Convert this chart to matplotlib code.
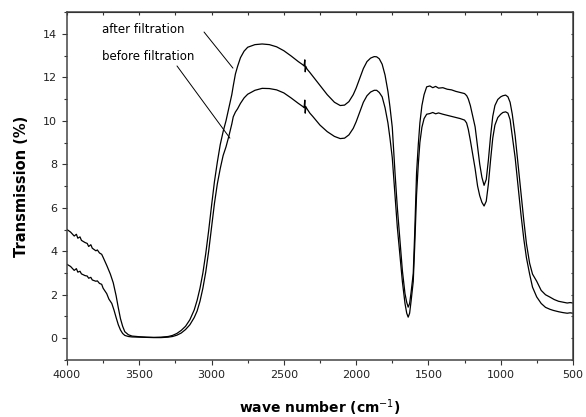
import matplotlib
matplotlib.use("Agg")
import matplotlib.pyplot as plt
from matplotlib.ticker import MultipleLocator

plt.rcParams["font.family"] = ["DejaVu Sans"]

# wavenumber (cm-1) and transmission (%), rows of ten
wn_after = [4000, 3975, 3950, 3935, 3925, 3910, 3900, 3875, 3860, 3850,
            3835, 3825, 3800, 3790, 3775, 3760, 3750, 3725, 3700, 3680,
            3660, 3645, 3630, 3615, 3600, 3575, 3550, 3500, 3450, 3400,
            3350, 3300, 3270, 3240, 3210, 3180, 3150, 3120, 3100, 3080,
            3060, 3040, 3020, 3000, 2980, 2960, 2940, 2920, 2900, 2880,
            2860, 2850, 2835, 2820, 2800, 2775, 2750, 2700, 2650, 2600,
            2550, 2500, 2450, 2400, 2370, 2360, 2355, 2352, 2348, 2340,
            2320, 2300, 2250, 2200, 2150, 2110, 2080, 2050, 2020, 2000,
            1975, 1950, 1925, 1900, 1875, 1858, 1840, 1820, 1800, 1780,
            1766, 1750, 1731, 1715, 1697, 1680, 1662, 1650, 1640, 1630,
            1620, 1605, 1595, 1582, 1570, 1559, 1545, 1530, 1512, 1490,
            1470, 1450, 1430, 1400, 1370, 1340, 1310, 1280, 1250, 1235,
            1224, 1210, 1195, 1177, 1160, 1145, 1130, 1115, 1100, 1085,
            1070, 1055, 1040, 1020, 1000, 985, 966, 950, 935, 920,
            900, 880, 860, 840, 822, 800, 780, 751, 720, 690,
            659, 630, 600, 570, 540, 520, 500]
tr_after = [5.00, 4.88, 4.70, 4.78, 4.60, 4.66, 4.50, 4.40, 4.36, 4.22,
            4.30, 4.14, 4.02, 4.06, 3.92, 3.86, 3.72, 3.35, 2.95, 2.55,
            1.95, 1.40, 0.90, 0.55, 0.30, 0.16, 0.10, 0.07, 0.05, 0.04,
            0.05, 0.08, 0.13, 0.22, 0.36, 0.55, 0.85, 1.30, 1.74, 2.30,
            3.00, 3.90, 4.95, 6.10, 7.20, 8.10, 8.90, 9.50, 10.00, 10.60,
            11.20, 11.60, 12.15, 12.50, 12.90, 13.20, 13.38, 13.50, 13.53, 13.50,
            13.40, 13.22, 12.98, 12.72, 12.58, 12.52, 12.80, 12.25, 12.50, 12.38,
            12.22, 12.05, 11.62, 11.20, 10.85, 10.70, 10.72, 10.88, 11.20, 11.50,
            11.95, 12.40, 12.72, 12.88, 12.95, 12.94, 12.85, 12.60, 12.10, 11.35,
            10.64, 9.70, 7.60, 6.00, 4.50, 3.10, 2.05, 1.65, 1.43, 1.60,
            2.10, 2.97, 4.80, 7.60, 8.90, 9.90, 10.70, 11.20, 11.56, 11.60,
            11.52, 11.58, 11.50, 11.52, 11.45, 11.42, 11.35, 11.30, 11.25, 11.15,
            11.00, 10.70, 10.25, 9.72, 8.80, 8.00, 7.40, 7.03, 7.30, 8.20,
            9.30, 10.20, 10.70, 10.98, 11.10, 11.15, 11.18, 11.10, 10.85, 10.30,
            9.30, 8.00, 6.65, 5.40, 4.35, 3.45, 2.95, 2.62, 2.20, 2.00,
            1.89, 1.78, 1.70, 1.66, 1.62, 1.64, 1.62]

wn_before = [4000, 3975, 3950, 3935, 3925, 3910, 3900, 3875, 3860, 3850,
             3835, 3825, 3800, 3790, 3775, 3760, 3750, 3725, 3710, 3690,
             3675, 3660, 3645, 3630, 3615, 3600, 3575, 3550, 3500, 3450,
             3400, 3350, 3300, 3270, 3240, 3210, 3180, 3150, 3120, 3100,
             3080, 3060, 3040, 3020, 3000, 2980, 2960, 2940, 2920, 2900,
             2880, 2860, 2850, 2835, 2820, 2800, 2775, 2750, 2700, 2650,
             2600, 2550, 2500, 2450, 2400, 2370, 2360, 2355, 2352, 2348,
             2340, 2320, 2300, 2250, 2200, 2150, 2110, 2080, 2050, 2020,
             2000, 1975, 1950, 1925, 1900, 1875, 1858, 1840, 1820, 1800,
             1780, 1766, 1750, 1731, 1715, 1697, 1680, 1662, 1650, 1640,
             1630, 1620, 1605, 1595, 1582, 1570, 1559, 1545, 1530, 1512,
             1490, 1470, 1450, 1430, 1400, 1370, 1340, 1310, 1280, 1250,
             1236, 1224, 1210, 1195, 1177, 1160, 1145, 1130, 1115, 1100,
             1085, 1070, 1055, 1040, 1020, 1000, 985, 966, 950, 935,
             920, 900, 880, 860, 840, 822, 800, 780, 751, 720,
             690, 659, 636, 600, 570, 540, 520, 500]
tr_before = [3.40, 3.30, 3.12, 3.20, 3.04, 3.08, 2.96, 2.88, 2.86, 2.76,
             2.80, 2.68, 2.62, 2.64, 2.52, 2.48, 2.30, 2.05, 1.80, 1.60,
             1.30, 0.95, 0.62, 0.38, 0.22, 0.13, 0.08, 0.06, 0.05, 0.04,
             0.03, 0.03, 0.05, 0.08, 0.14, 0.24, 0.40, 0.62, 0.95, 1.25,
             1.70, 2.30, 3.05, 4.00, 5.10, 6.20, 7.10, 7.80, 8.40, 8.80,
             9.30, 9.85, 10.18, 10.40, 10.55, 10.80, 11.05, 11.22, 11.40, 11.49,
             11.48, 11.42, 11.28, 11.05, 10.80, 10.66, 10.60, 10.95, 10.35, 10.65,
             10.55, 10.35, 10.20, 9.80, 9.50, 9.28, 9.18, 9.20, 9.35, 9.65,
             9.95, 10.40, 10.85, 11.15, 11.32, 11.40, 11.40, 11.30, 11.10, 10.60,
             9.90, 9.20, 8.30, 6.60, 5.10, 3.80, 2.60, 1.60, 1.15, 0.97,
             1.15, 1.70, 2.60, 4.20, 6.60, 8.00, 9.00, 9.70, 10.10, 10.30,
             10.33, 10.38, 10.32, 10.36, 10.30, 10.25, 10.20, 10.15, 10.10, 10.03,
             9.90, 9.60, 9.10, 8.50, 7.80, 7.00, 6.55, 6.25, 6.08, 6.30,
             7.10, 8.20, 9.20, 9.80, 10.15, 10.30, 10.38, 10.41, 10.35, 10.05,
             9.30, 8.30, 7.00, 5.70, 4.55, 3.70, 2.95, 2.35, 1.90, 1.60,
             1.42, 1.33, 1.28, 1.22, 1.18, 1.15, 1.17, 1.15]

x_ticks = [4000, 3500, 3000, 2500, 2000, 1500, 1000, 500]
y_ticks = [0, 2, 4, 6, 8, 10, 12, 14]

fig = plt.figure(figsize=(5.86, 4.17), dpi=100)
ax = fig.add_axes([0.1143, 0.1367, 0.8635, 0.8345])

ax.plot(wn_after, tr_after, color="black", linewidth=0.9)
ax.plot(wn_before, tr_before, color="black", linewidth=0.9)

ax.set_xlim(4000, 500)
ax.set_ylim(-1, 15)
ax.set_xticks(x_ticks)
ax.set_yticks(y_ticks)
ax.xaxis.set_minor_locator(MultipleLocator(250))
ax.yaxis.set_minor_locator(MultipleLocator(1))
ax.tick_params(which="both", direction="out", colors="#333333", labelsize=8,
               labelcolor="#222222", width=0.8)
ax.tick_params(which="major", length=3.5)
ax.tick_params(which="minor", length=2)
for side in ["left", "bottom", "top", "right"]:
    ax.spines[side].set_color("#444444")
    ax.spines[side].set_linewidth(1.1)

# small inward ticks on the top and right frame
top = ax.secondary_xaxis("top")
top.set_xticks(x_ticks)
top.xaxis.set_minor_locator(MultipleLocator(250))
top.tick_params(which="both", direction="in", length=1.8, labeltop=False,
                colors="#333333", width=0.8)
right = ax.secondary_yaxis("right")
right.set_yticks(y_ticks)
right.yaxis.set_minor_locator(MultipleLocator(1))
right.tick_params(which="both", direction="in", length=1.8, labelright=False,
                  colors="#333333", width=0.8)

ax.set_xlabel("wave number (cm$^{-1}$)", fontsize=10, fontweight="bold", labelpad=13)
ax.set_ylabel("Transmission (%)", fontsize=10.5, fontweight="bold", labelpad=10)

# leader lines from the labels to the curves
ax.annotate("", xy=(2852, 12.42), xytext=(3052, 14.08),
            arrowprops=dict(arrowstyle="-", color="black", linewidth=0.7,
                            shrinkA=0, shrinkB=0))
ax.annotate("", xy=(2873, 9.2), xytext=(3239, 12.52),
            arrowprops=dict(arrowstyle="-", color="black", linewidth=0.7,
                            shrinkA=0, shrinkB=0))
ax.text(3755, 14.2, "after filtration", fontsize=8.5, va="center", ha="left")
ax.text(3755, 12.95, "before filtration", fontsize=8.5, va="center", ha="left")

fig.savefig("out.png", dpi=100)
